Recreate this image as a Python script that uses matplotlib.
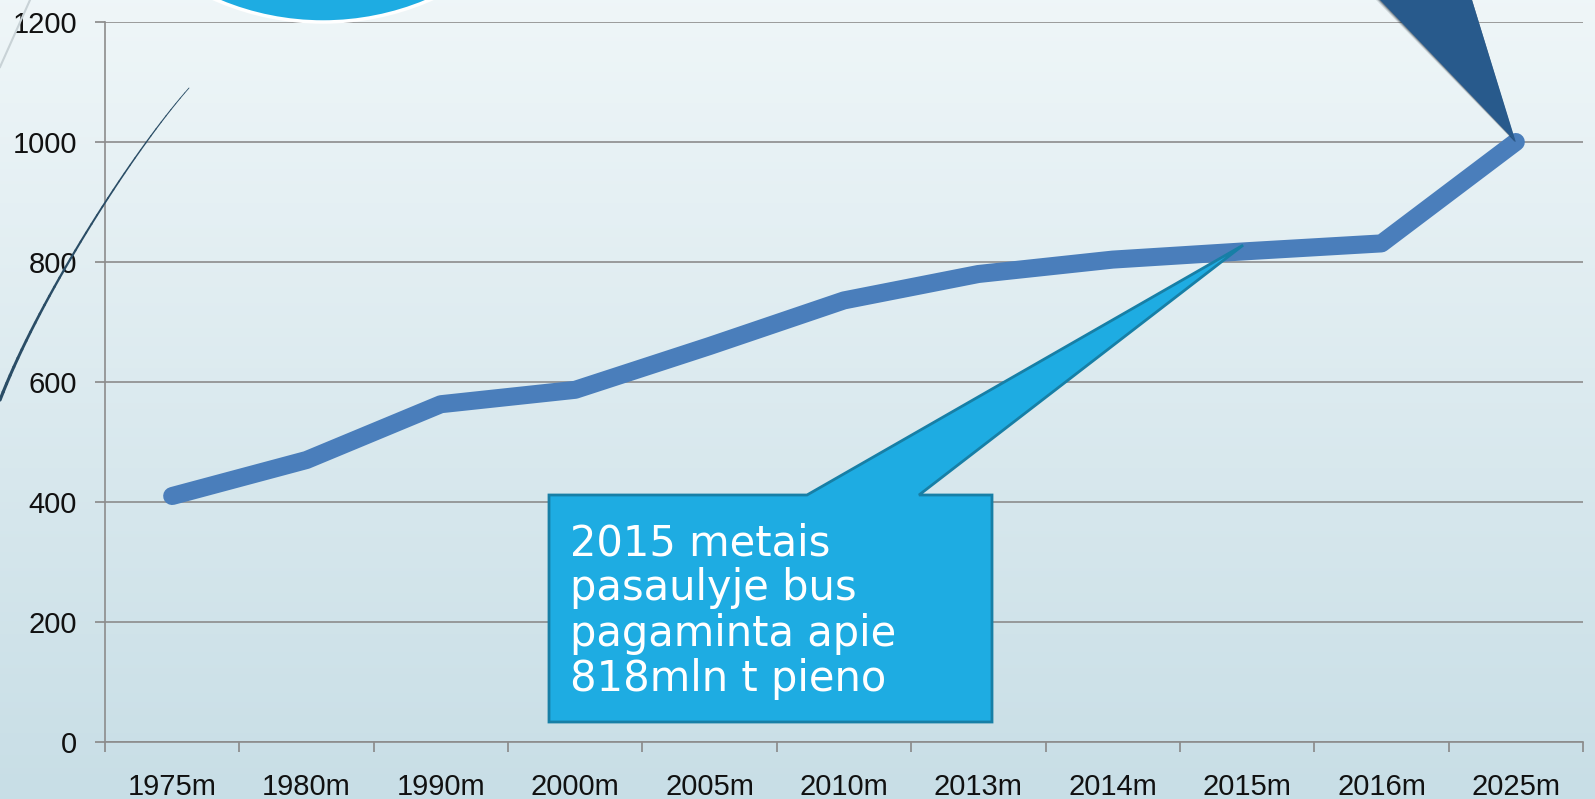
import matplotlib.pyplot as plt
import numpy as np
from matplotlib.patches import Polygon, Circle

# Data
years = ['1975m', '1980m', '1990m', '2000m', '2005m', '2010m',
         '2013m', '2014m', '2015m', '2016m', '2025m']
milk = [410, 470, 563, 587, 660, 736, 780, 804, 818, 831, 1000]
y_ticks = [0, 200, 400, 600, 800, 1000, 1200]
note = '2015 metais\npasaulyje bus\npagaminta apie\n818mln t pieno'

W, H = 1595, 799
fig = plt.figure(figsize=(W / 100, H / 100), dpi=100)

# background gradient
bg = fig.add_axes([0, 0, 1, 1], zorder=0)
grad = np.linspace(0, 1, 256).reshape(-1, 1)
top = np.array([0.937, 0.965, 0.973])
bot = np.array([0.784, 0.871, 0.902])
img = top + (bot - top) * grad[:, :, None]
bg.imshow(img, aspect='auto', extent=[0, 1, 0, 1])
bg.axis('off')

ax = fig.add_axes([105 / W, 1 - 742 / H, 1478 / W, 720 / H], zorder=1)
ax.set_facecolor('none')
x = np.arange(len(years))
ax.plot(x, milk, color='#4a7ebb', lw=13, solid_capstyle='round',
        solid_joinstyle='round', zorder=4)

ax.set_xlim(-0.5, len(years) - 0.5)
ax.set_ylim(0, 1200)
ax.set_yticks(y_ticks)
ax.set_xticks(x)
ax.set_xticklabels(years)
ax.set_xticks(np.arange(-0.5, len(years)), minor=True)
ax.tick_params(axis='x', which='major', length=0, pad=22)
ax.tick_params(axis='x', which='minor', length=7, width=1.2, color='#888888', direction='out')
ax.tick_params(axis='y', length=7, width=1.2, color='#888888', pad=13)
for lab in ax.get_xticklabels() + ax.get_yticklabels():
    lab.set_fontsize(21)
    lab.set_fontfamily('Liberation Sans')
    lab.set_color('#111111')
ax.grid(axis='y', color='#8c8c8c', lw=1.2, zorder=1)
ax.set_axisbelow(True)
for s in ['top', 'right']:
    ax.spines[s].set_visible(False)
for s in ['left', 'bottom']:
    ax.spines[s].set_color('#8c8c8c')
    ax.spines[s].set_linewidth(1.2)

# overlay in pixel coordinates for decorations
ov = fig.add_axes([0, 0, 1, 1], zorder=2)
ov.set_xlim(0, W)
ov.set_ylim(H, 0)
ov.axis('off')
ov.set_facecolor('none')

def to_px(xd, yd):
    fx, fy = fig.transFigure.inverted().transform(ax.transData.transform((xd, yd)))
    return fx * W, (1 - fy) * H

# cyan circle at top
ov.add_patch(Circle((323, -247), 269, facecolor='#1eace2', edgecolor='white', lw=2.5))

# left decorative curve (cubic bezier, tapering)
p0, p1, p2, p3 = map(np.array, [(0, 400), (40, 296), (134, 150), (189, 88)])
t = np.linspace(0, 1, 40)[:, None]
pts = (1 - t) ** 3 * p0 + 3 * (1 - t) ** 2 * t * p1 + 3 * (1 - t) * t ** 2 * p2 + t ** 3 * p3
for i in range(len(pts) - 1):
    ov.plot(pts[i:i + 2, 0], pts[i:i + 2, 1], color='#2a4d66',
            lw=2.3 - 1.8 * i / len(pts), solid_capstyle='round')
ov.plot([0, 30], [67, 0], color='#c8d2d6', lw=1.5)

# dark pointer top right, tip at 2025 value
tx, ty = to_px(len(years) - 1, milk[-1])
for k, a in [(4, 0.12), (2.5, 0.2), (1.2, 0.3)]:
    ov.add_patch(Polygon([(1380 - k, 0), (tx - k * 0.3, ty), (1472, 0)], closed=True,
                         facecolor='#0e1a28', alpha=a, edgecolor='none'))
ov.add_patch(Polygon([(1380, 0), (tx, ty), (1472, 0)], closed=True,
                     facecolor='#285a8c', edgecolor='none'))

# callout with pointer to 2015 value
px, py = to_px(8, milk[8])
ov.add_patch(Polygon([(549, 495), (807, 495), (px - 4, py - 6), (919, 495),
                      (992, 495), (992, 722), (549, 722)], closed=True,
                     facecolor='#1eace2', edgecolor='#177fa6', lw=2))
ov.text(570, 522, note, color='white', fontsize=30, family='DejaVu Sans',
        va='top', ha='left', linespacing=1.1)

fig.savefig('out.png', dpi=100)
